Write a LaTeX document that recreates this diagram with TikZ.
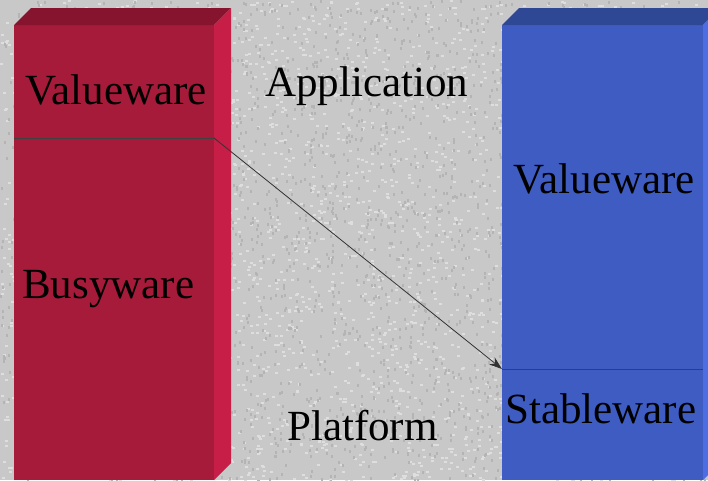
\documentclass[tikz,border=0pt]{standalone}
\usepackage{fontspec}
\setmainfont{Liberation Serif}
\usetikzlibrary{arrows.meta}

\definecolor{redfront}{RGB}{166,26,58}
\definecolor{redtop}{RGB}{134,20,47}
\definecolor{redside}{RGB}{198,30,70}
\definecolor{bluefront}{RGB}{62,92,194}
\definecolor{bluetop}{RGB}{47,72,150}
\definecolor{blueside}{RGB}{76,110,226}
\definecolor{granite}{RGB}{200,200,200}
\definecolor{granitelight}{RGB}{222,222,222}
\definecolor{granitedark}{RGB}{180,180,180}

\tikzset{
  layer/.style={font=\fontsize{43}{50}\selectfont, inner sep=0pt, anchor=base west},
  split/.style={draw=black!75, line width=0.8pt},
}

\begin{document}
\begin{tikzpicture}[x=1pt, y=-1pt]
    \useasboundingbox (0,0) rectangle (708,480);
    \clip (0,0) rectangle (708,480);
    % sfondo granito
    \fill[granite] (0,0) rectangle (708,480);
    \pgfmathsetseed{7}
    \foreach \i in {1,...,3000} {
        \pgfmathsetmacro{\px}{rnd*708}
        \pgfmathsetmacro{\py}{rnd*480}
        \fill[granitelight] (\px,\py) rectangle ++(3,2);
    }
    \foreach \i in {1,...,3000} {
        \pgfmathsetmacro{\px}{rnd*708}
        \pgfmathsetmacro{\py}{rnd*480}
        \fill[granitedark] (\px,\py) rectangle ++(2,3);
    }

    % --- Barra sinistra ---
    \fill[redfront] (14,25) rectangle (214,480);
    \fill[redtop] (14,25) -- (31,8) -- (231,8) -- (214,25) -- cycle;
    \fill[redside] (214,25) -- (231,8) -- (231,463) -- (214,480) -- cycle;
    \coordinate (lsplit) at (14,138);
    \coordinate (lsplitend) at (214,138);
    \draw[split] (lsplit) -- (lsplitend);

    % --- Barra destra ---
    \fill[bluefront] (502,25) rectangle (703,480);
    \fill[bluetop] (502,25) -- (519,8) -- (720,8) -- (703,25) -- cycle;
    \fill[blueside] (703,25) -- (720,8) -- (720,463) -- (703,480) -- cycle;
    \coordinate (rsplit) at (502,369);
    \coordinate (rsplitend) at (703,369);
    \draw[split] (rsplit) -- (rsplitend);

    % etichette
    \node[layer] (valueL) at (25,104) {Valueware};
    \node[layer] (busy) at (22,298) {Busyware};
    \node[layer] (app) at (265,96) {Application};
    \node[layer] (plat) at (287,440) {Platform};
    \node[layer] (valueR) at (513,193) {Valueware};
    \node[layer] (stable) at (505,423) {Stableware};

    % freccia
    \draw[black!80, line width=0.8pt, -{Stealth[length=13pt,width=9pt]}] (lsplitend) -- (rsplit);
\end{tikzpicture}
\end{document}
